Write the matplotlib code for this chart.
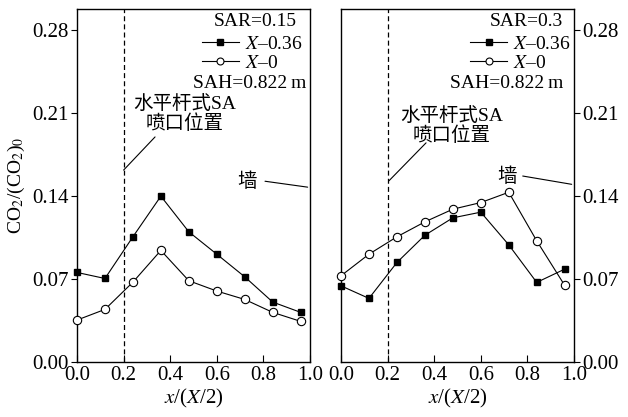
import matplotlib
matplotlib.use('Agg')
import matplotlib.pyplot as plt
from matplotlib.lines import Line2D

plt.rcParams['font.family'] = ['Liberation Serif', 'Noto Sans CJK SC']
plt.rcParams['mathtext.fontset'] = 'stix'

# data
x_pos = [0.0, 0.12, 0.24, 0.36, 0.48, 0.60, 0.72, 0.84, 0.96]
sar015_x036 = [0.0756, 0.0705, 0.1057, 0.1400, 0.1099, 0.0910, 0.0719, 0.0506, 0.0419]
sar015_x0 = [0.0354, 0.0444, 0.0674, 0.0942, 0.0686, 0.0599, 0.0528, 0.0419, 0.0343]
sar03_x036 = [0.0643, 0.0537, 0.0840, 0.1070, 0.1217, 0.1265, 0.0989, 0.0672, 0.0784]
sar03_x0 = [0.0728, 0.0910, 0.1057, 0.1183, 0.1290, 0.1346, 0.1433, 0.1023, 0.0647]
x_ticks = [0.0, 0.2, 0.4, 0.6, 0.8, 1.0]
y_ticks = [0.00, 0.07, 0.14, 0.21, 0.28]
sar_labels = ['SAR=0.15', 'SAR=0.3']
sah_label = 'SAH=0.822\u2009m'
series_labels = [r'$X$–0.36', r'$X$–0']
nozzle_x = 0.2

fig = plt.figure(figsize=(6.28, 4.17), dpi=100)
ax1 = fig.add_axes([0.1226, 0.1319, 0.371, 0.8465])
ax2 = fig.add_axes([0.543, 0.1319, 0.371, 0.8465])

panels = [
    (ax1, sar015_x036, sar015_x0, 0),
    (ax2, sar03_x036, sar03_x0, 1),
]

for ax, sq, ci, i in panels:
    ax.plot(x_pos, sq, '-', color='black', lw=0.8, marker='s', ms=5,
            mfc='black', mec='black', clip_on=False, zorder=3)
    ax.plot(x_pos, ci, '-', color='black', lw=0.8, marker='o', ms=6,
            mfc='white', mec='black', mew=0.8, clip_on=False, zorder=3)
    ax.axvline(nozzle_x, color='black', lw=0.9, ls=(0, (4, 2.5)))
    ax.set_xlim(0, 1)
    ax.set_ylim(0, 0.298)
    ax.set_xticks(x_ticks)
    ax.set_xticklabels(['%.1f' % t for t in x_ticks])
    ax.set_yticks(y_ticks)
    ax.set_yticklabels(['%.2f' % t for t in y_ticks])
    ax.tick_params(axis='x', direction='in', length=5, labelsize=15, pad=3)
    ax.tick_params(axis='y', direction='out', length=4, labelsize=15, pad=2)
    ax.set_xlabel(r'$x$/($X$/2)', fontsize=15, labelpad=1)
    for s in ax.spines.values():
        s.set_linewidth(1.0)

# left panel annotations
ax1.set_ylabel(r'CO$_2$/(CO$_2$)$_0$', fontsize=14, labelpad=4)
ax1.text(0.944, 0.966, sar_labels[0], transform=ax1.transAxes, ha='right', va='center', fontsize=14)
ax1.text(0.985, 0.79, sah_label, transform=ax1.transAxes, ha='right', va='center', fontsize=14)
ax1.text(0.462, 0.209, '水平杆式SA\n喷口位置', ha='center', va='center', fontsize=14, linespacing=1.1)
ax1.annotate('', xy=(0.2, 0.162), xytext=(0.335, 0.19),
             arrowprops=dict(arrowstyle='-', lw=0.8, color='black', shrinkA=0, shrinkB=0))
ax1.text(0.73, 0.152, '墙', ha='center', va='center', fontsize=14)
ax1.annotate('', xy=(0.99, 0.1476), xytext=(0.807, 0.1526),
             arrowprops=dict(arrowstyle='-', lw=0.8, color='black', shrinkA=0, shrinkB=0))

# right panel annotations
ax2.yaxis.tick_right()
ax2.text(0.953, 0.966, sar_labels[1], transform=ax2.transAxes, ha='right', va='center', fontsize=14)
ax2.text(0.953, 0.79, sah_label, transform=ax2.transAxes, ha='right', va='center', fontsize=14)
ax2.text(0.476, 0.199, '水平杆式SA\n喷口位置', ha='center', va='center', fontsize=14, linespacing=1.1)
ax2.annotate('', xy=(0.206, 0.153), xytext=(0.365, 0.185),
             arrowprops=dict(arrowstyle='-', lw=0.8, color='black', shrinkA=0, shrinkB=0))
ax2.text(0.712, 0.156, '墙', ha='center', va='center', fontsize=14)
ax2.annotate('', xy=(0.99, 0.150), xytext=(0.78, 0.157),
             arrowprops=dict(arrowstyle='-', lw=0.8, color='black', shrinkA=0, shrinkB=0))

handles = [
    Line2D([], [], color='black', lw=0.8, marker='s', ms=5, mfc='black'),
    Line2D([], [], color='black', lw=0.8, marker='o', ms=5, mfc='white', mew=0.8),
]
for ax, x0 in [(ax1, 0.536), (ax2, 0.554)]:
    ax.legend(handles, series_labels, loc='upper left', bbox_to_anchor=(x0, 0.926),
              frameon=False, fontsize=14, handlelength=1.9, handletextpad=0.3,
              labelspacing=0.1, borderpad=0, borderaxespad=0, numpoints=1)

fig.savefig('out.png', dpi=100)
